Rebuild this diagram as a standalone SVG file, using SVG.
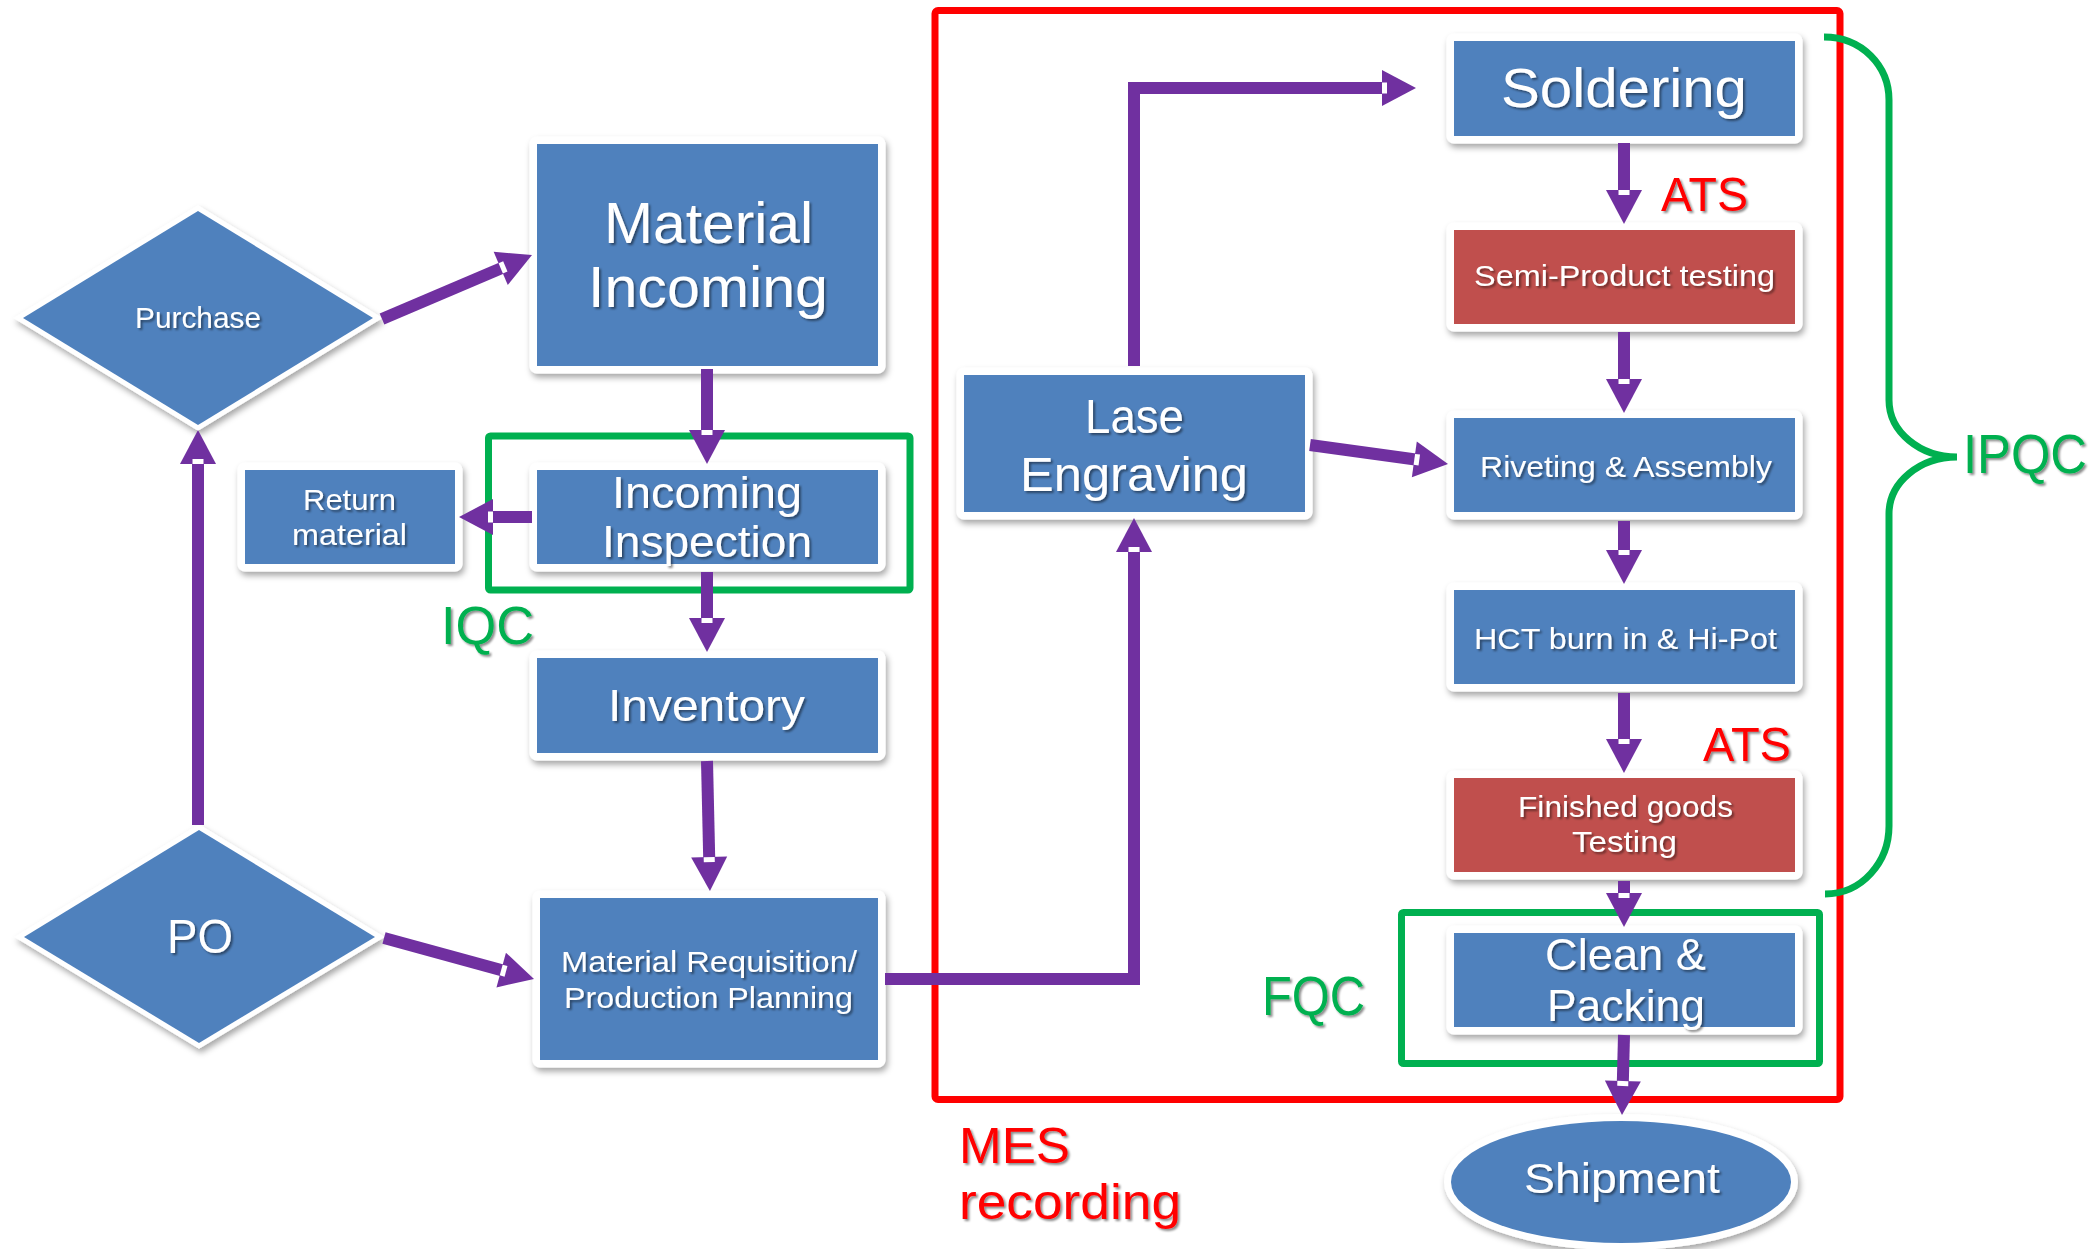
<svg xmlns="http://www.w3.org/2000/svg" width="2097" height="1249" viewBox="0 0 2097 1249">
<defs>
<filter id="sh" x="-10%" y="-10%" width="125%" height="130%">
<feDropShadow dx="2" dy="4" stdDeviation="3" flood-color="#000" flood-opacity="0.35"/>
</filter>
<filter id="tsh" x="-10%" y="-20%" width="125%" height="150%">
<feDropShadow dx="2" dy="2" stdDeviation="1.2" flood-color="#000" flood-opacity="0.45"/>
</filter>
<marker id="arr" markerUnits="userSpaceOnUse" markerWidth="36" markerHeight="36" refX="14" refY="18" orient="auto" overflow="visible">
<path d="M0,0 L34,18 L0,36 Z" fill="#7030A0"/>
<rect x="0" y="12.5" width="5" height="11" fill="#fff"/>
</marker>
</defs>
<style>
.blue{fill:#4F81BD;stroke:#fff;stroke-width:15;paint-order:stroke;stroke-linejoin:round}
.redbox{fill:#C0504D;stroke:#fff;stroke-width:15;paint-order:stroke;stroke-linejoin:round}
.dia{fill:#4F81BD;stroke:#fff;stroke-width:10;paint-order:stroke;stroke-linejoin:miter}
.t{font-family:"Liberation Sans",Arial,sans-serif;fill:#fff;text-anchor:middle;filter:url(#tsh)}
.lbl{font-family:"Liberation Sans",Arial,sans-serif;filter:url(#tsh)}
.g{fill:#00B050}
.r{fill:#FF0000}
.c{fill:none;stroke:#7030A0;stroke-width:12;marker-end:url(#arr)}
</style>
<rect width="2097" height="1249" fill="#fff"/>

<g id="frames">
<rect id="mes-frame" x="935" y="10.5" width="905" height="1089" rx="3" fill="none" stroke="#FF0000" stroke-width="7"/>
<rect id="iqc-frame" x="488.5" y="436" width="421.5" height="154" rx="2" fill="none" stroke="#00B050" stroke-width="7"/>
<rect id="fqc-frame" x="1401.5" y="912.5" width="418" height="151" rx="2" fill="none" stroke="#00B050" stroke-width="7"/>
<path id="ipqc-brace" d="M1824,37 C1862,37 1889,66 1889,100 V400 C1889,432 1920,457 1957,457 C1920,457 1889,482 1889,514 V826 C1889,862 1862,894 1825,894" fill="none" stroke="#00B050" stroke-width="7"/>
</g>

<g id="labels">
<text class="lbl g" x="441" y="644" font-size="54" textLength="93" lengthAdjust="spacingAndGlyphs">IQC</text>
<text class="lbl g" x="1262" y="1015" font-size="56" textLength="103" lengthAdjust="spacingAndGlyphs">FQC</text>
<text class="lbl g" x="1963" y="473" font-size="56" textLength="124" lengthAdjust="spacingAndGlyphs">IPQC</text>
<text class="lbl r" x="1661" y="211" font-size="48" textLength="87" lengthAdjust="spacingAndGlyphs">ATS</text>
<text class="lbl r" x="1703" y="761" font-size="48" textLength="88" lengthAdjust="spacingAndGlyphs">ATS</text>
<text class="lbl r" x="959" y="1163" font-size="50" textLength="111" lengthAdjust="spacingAndGlyphs">MES</text>
<text class="lbl r" x="959" y="1219" font-size="50" textLength="222" lengthAdjust="spacingAndGlyphs">recording</text>
</g>

<g id="purchase" filter="url(#sh)">
<polygon class="dia" points="23,318 198,211 373,318 198,425"/>
<text class="t" x="198" y="328" font-size="30" textLength="126" lengthAdjust="spacingAndGlyphs">Purchase</text>
</g>
<g id="po" filter="url(#sh)">
<polygon class="dia" points="24,937 199,830 375,937 199,1043"/>
<text class="t" x="200" y="953" font-size="48" textLength="66" lengthAdjust="spacingAndGlyphs">PO</text>
</g>
<g id="material-incoming" filter="url(#sh)">
<rect class="blue" x="537" y="144" width="341" height="222"/>
<text class="t" x="708.5" y="243" font-size="57" textLength="209" lengthAdjust="spacingAndGlyphs">Material</text>
<text class="t" x="708" y="307" font-size="57" textLength="240" lengthAdjust="spacingAndGlyphs">Incoming</text>
</g>
<g id="incoming-inspection" filter="url(#sh)">
<rect class="blue" x="537" y="470" width="341" height="94"/>
<text class="t" x="707" y="508" font-size="44" textLength="190" lengthAdjust="spacingAndGlyphs">Incoming</text>
<text class="t" x="707" y="557" font-size="44" textLength="210" lengthAdjust="spacingAndGlyphs">Inspection</text>
</g>
<g id="return-material" filter="url(#sh)">
<rect class="blue" x="245" y="470" width="210" height="94"/>
<text class="t" x="349.5" y="510" font-size="30" textLength="93" lengthAdjust="spacingAndGlyphs">Return</text>
<text class="t" x="349.5" y="545" font-size="30" textLength="115" lengthAdjust="spacingAndGlyphs">material</text>
</g>
<g id="inventory" filter="url(#sh)">
<rect class="blue" x="537" y="658" width="341" height="95"/>
<text class="t" x="706.5" y="721" font-size="45" textLength="197" lengthAdjust="spacingAndGlyphs">Inventory</text>
</g>
<g id="material-requisition" filter="url(#sh)">
<rect class="blue" x="540" y="898" width="338" height="162"/>
<text class="t" x="709" y="972" font-size="30" textLength="296" lengthAdjust="spacingAndGlyphs">Material Requisition/</text>
<text class="t" x="708.5" y="1008" font-size="30" textLength="289" lengthAdjust="spacingAndGlyphs">Production Planning</text>
</g>
<g id="lase-engraving" filter="url(#sh)">
<rect class="blue" x="964" y="375" width="341" height="137"/>
<text class="t" x="1134.5" y="433" font-size="49" textLength="99" lengthAdjust="spacingAndGlyphs">Lase</text>
<text class="t" x="1134" y="491" font-size="49" textLength="228" lengthAdjust="spacingAndGlyphs">Engraving</text>
</g>
<g id="soldering" filter="url(#sh)">
<rect class="blue" x="1454" y="41" width="341" height="95"/>
<text class="t" x="1624" y="107" font-size="55" textLength="246" lengthAdjust="spacingAndGlyphs">Soldering</text>
</g>
<g id="semi-product-testing" filter="url(#sh)">
<rect class="redbox" x="1454" y="230" width="341" height="94"/>
<text class="t" x="1624.5" y="286" font-size="29" textLength="301" lengthAdjust="spacingAndGlyphs">Semi-Product testing</text>
</g>
<g id="riveting-assembly" filter="url(#sh)">
<rect class="blue" x="1454" y="418" width="341" height="94"/>
<text class="t" x="1626" y="477" font-size="29" textLength="292" lengthAdjust="spacingAndGlyphs">Riveting &amp; Assembly</text>
</g>
<g id="hct-burn-in" filter="url(#sh)">
<rect class="blue" x="1454" y="590" width="341" height="94"/>
<text class="t" x="1625.5" y="649" font-size="29" textLength="303" lengthAdjust="spacingAndGlyphs">HCT burn in &amp; Hi-Pot</text>
</g>
<g id="finished-goods-testing" filter="url(#sh)">
<rect class="redbox" x="1454" y="778" width="341" height="94"/>
<text class="t" x="1625.5" y="817" font-size="29" textLength="215" lengthAdjust="spacingAndGlyphs">Finished goods</text>
<text class="t" x="1624.5" y="852" font-size="29" textLength="105" lengthAdjust="spacingAndGlyphs">Testing</text>
</g>
<g id="clean-packing" filter="url(#sh)">
<rect class="blue" x="1454" y="933" width="341" height="94"/>
<text class="t" x="1625.5" y="970" font-size="45" textLength="161" lengthAdjust="spacingAndGlyphs">Clean &amp;</text>
<text class="t" x="1626" y="1021" font-size="45" textLength="158" lengthAdjust="spacingAndGlyphs">Packing</text>
</g>
<g id="shipment" filter="url(#sh)">
<ellipse cx="1621" cy="1182" rx="170" ry="61" fill="#4F81BD" stroke="#fff" stroke-width="14" paint-order="stroke"/>
<text class="t" x="1622" y="1193" font-size="42" textLength="196" lengthAdjust="spacingAndGlyphs">Shipment</text>
</g>

<g id="connectors">
<path class="c" d="M198,825 V450"/>
<path class="c" d="M382,319 L513.6,262.9"/>
<path class="c" d="M707,369 V444"/>
<path class="c" d="M532,517 H479"/>
<path class="c" d="M707,572 V632"/>
<path class="c" d="M707,761 L709.5,871"/>
<path class="c" d="M384,938 L514.7,973.7"/>
<path class="c" d="M885,979 H1134 V538"/>
<path class="c" d="M1134,366 V88 H1396"/>
<path class="c" d="M1310,445 L1428.2,461.3"/>
<path class="c" d="M1624,143 V204"/>
<path class="c" d="M1624,332 V393"/>
<path class="c" d="M1624,521 V564"/>
<path class="c" d="M1624,693 V753"/>
<path class="c" d="M1624,881 V907"/>
<path class="c" d="M1624,1035 L1622.5,1095"/>
</g>
</svg>
